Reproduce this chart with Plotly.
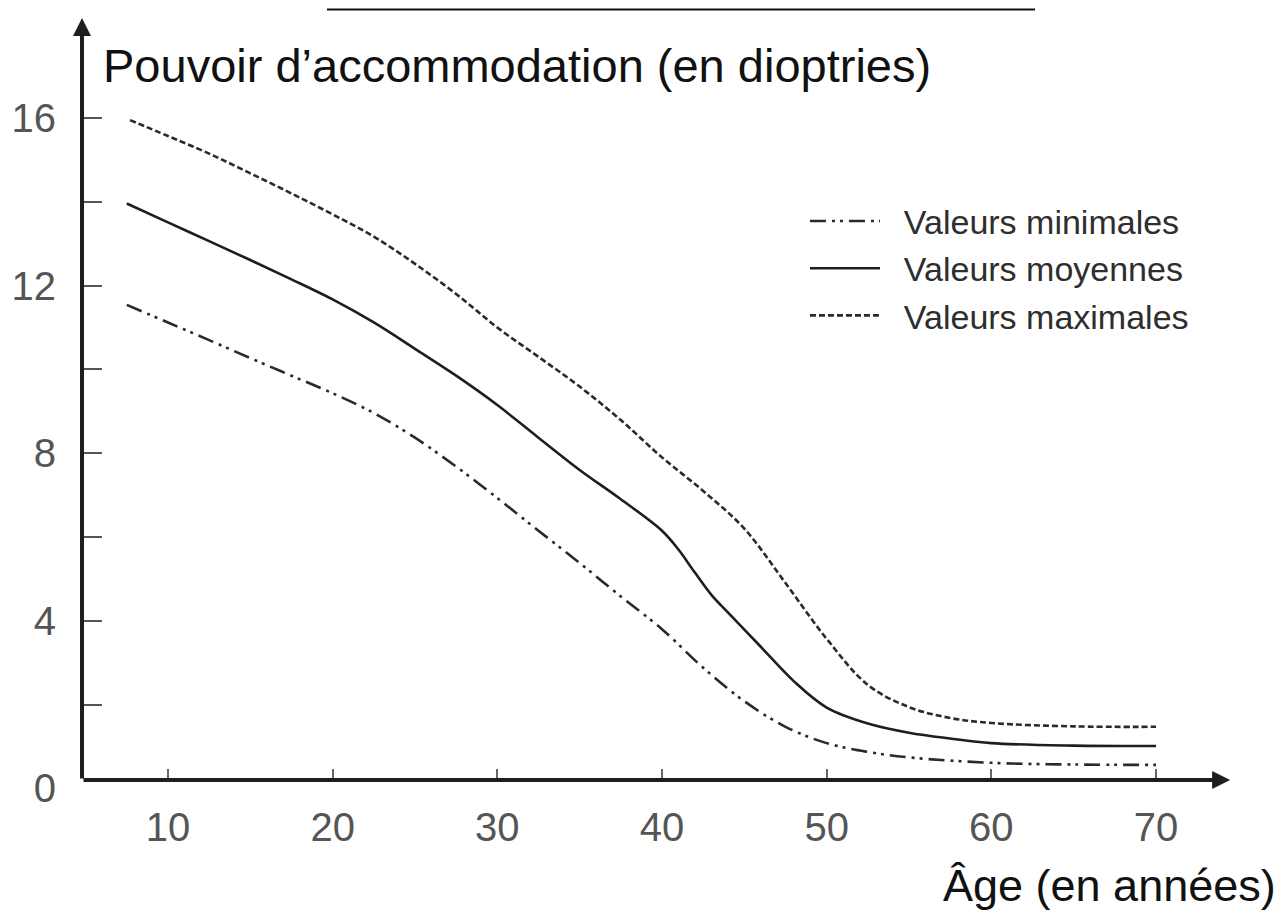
import plotly.graph_objects as go

# ---- data ----
age_max = [7.7, 10, 12.5, 15, 17.5, 20, 22.5, 25, 27.5, 30, 32.5, 35, 37.5, 40, 42.5, 45, 47.5, 50, 52.5, 55, 57.5, 60, 65, 70]
val_max = [15.95, 15.57, 15.15, 14.68, 14.2, 13.7, 13.17, 12.52, 11.8, 11.0, 10.3, 9.59, 8.79, 7.9, 7.1, 6.2, 4.9, 3.57, 2.47, 1.94, 1.68, 1.56, 1.48, 1.47]

age_mean = [7.5, 10, 12.5, 15, 17.5, 20, 22.5, 25, 27.5, 30, 32.5, 35, 37.5, 40, 41, 42, 43, 44, 46, 48, 50, 52.5, 55, 57.5, 60, 65, 70]
val_mean = [13.96, 13.51, 13.06, 12.61, 12.15, 11.67, 11.12, 10.49, 9.85, 9.15, 8.37, 7.6, 6.9, 6.15, 5.7, 5.15, 4.62, 4.2, 3.38, 2.56, 1.93, 1.55, 1.33, 1.19, 1.08, 1.02, 1.01]

age_min = [7.5, 10, 12.5, 15, 17.5, 20, 22.5, 25, 27.5, 30, 32.5, 35, 37.5, 40, 42.5, 45, 47.5, 50, 52.5, 55, 60, 65, 70]
val_min = [11.54, 11.12, 10.70, 10.27, 9.85, 9.43, 8.96, 8.37, 7.68, 6.93, 6.15, 5.38, 4.58, 3.80, 2.88, 2.08, 1.47, 1.08, 0.87, 0.74, 0.61, 0.57, 0.56]

x_ticks = [10, 20, 30, 40, 50, 60, 70]
y_ticks = [2, 4, 6, 8, 10, 12, 14, 16]
y_labels = ["", "4", "", "8", "", "12", "", "16"]

series_names = ["Valeurs minimales", "Valeurs moyennes", "Valeurs maximales"]

title_y = "Pouvoir d\u2019accommodation (en dioptries)"
title_x = "\u00c2ge (en ann\u00e9es)"

# axis extents (data units)
X_MIN, X_MAX = 4.78, 74.98
Y_MIN, Y_MAX = -0.516, 18.578
X_AXIS_Y = 0.20
X_ARROW_END = 74.5
Y_ARROW_END = 18.39

FONT = "Liberation Sans, Arial, Helvetica, sans-serif"
INK = "#1e1e1e"
GAP = "\u00a0\u00a0"

fig = go.Figure()
fig.add_trace(go.Scatter(
    x=age_min, y=val_min, mode="lines", name=GAP + series_names[0],
    line=dict(color="#2a2a2a", width=2.6, dash="16px,6px,3px,5px,3px,6px",
              shape="spline", smoothing=1.0)))
fig.add_trace(go.Scatter(
    x=age_mean, y=val_mean, mode="lines", name=GAP + series_names[1],
    line=dict(color="#1e1e1e", width=2.6, shape="spline", smoothing=1.0)))
fig.add_trace(go.Scatter(
    x=age_max, y=val_max, mode="lines", name=GAP + series_names[2],
    line=dict(color="#2a2a2a", width=2.6, dash="6px,3px",
              shape="spline", smoothing=1.0)))

# invisible trace on yaxis2 to carry the "0" label
fig.add_trace(go.Scatter(x=[None], y=[None], yaxis="y2", showlegend=False, hoverinfo="skip"))

# page body has an 8px margin: figure drawn at (8, 8)
fig.update_layout(
    width=1275, height=903,
    margin=dict(l=74, r=45, t=2, b=101, autoexpand=False),
    paper_bgcolor="white", plot_bgcolor="white",
    font=dict(family=FONT),
    xaxis=dict(
        range=[X_MIN, X_MAX], showgrid=False, zeroline=False, showline=False,
        anchor="free", position=0.0375, automargin=False,
        tickvals=x_ticks, ticks="inside", ticklen=11, tickwidth=2, tickcolor="#666",
        tickfont=dict(size=40, color="#555", family=FONT), ticklabelstandoff=20,
    ),
    yaxis=dict(
        range=[Y_MIN, Y_MAX], showgrid=False, zeroline=False, showline=False,
        automargin=False,
        tickvals=y_ticks, ticktext=y_labels, ticks="inside", ticklen=20, tickwidth=2,
        tickcolor="#555", tickfont=dict(size=40, color="#555", family=FONT),
        ticklabelstandoff=25,
    ),
    yaxis2=dict(
        range=[Y_MIN, Y_MAX], overlaying="y", side="left", showgrid=False,
        automargin=False,
        zeroline=False, showline=False, tickvals=[0], ticktext=["0"], ticks="",
        tickfont=dict(size=40, color="#555", family=FONT), ticklabelstandoff=25,
    ),
    showlegend=True,
    legend=dict(
        x=0.6254, y=0.772, xanchor="left", yanchor="top",
        bgcolor="rgba(0,0,0,0)", itemwidth=70,
        font=dict(size=34, color="#2e2e2e", family=FONT),
        tracegroupgap=0,
    ),
)

# axes drawn as arrows
fig.add_annotation(x=X_ARROW_END, y=X_AXIS_Y, ax=X_MIN, ay=X_AXIS_Y,
                   xref="x", yref="y", axref="x", ayref="y",
                   showarrow=True, arrowhead=2, arrowsize=0.9, arrowwidth=4,
                   arrowcolor=INK, text="")
fig.add_annotation(x=X_MIN, y=Y_ARROW_END, ax=X_MIN, ay=X_AXIS_Y,
                   xref="x", yref="y", axref="x", ayref="y",
                   showarrow=True, arrowhead=2, arrowsize=0.9, arrowwidth=4,
                   arrowcolor=INK, text="")

# axis titles
fig.add_annotation(x=0.0165, y=0.93, xref="paper", yref="paper",
                   xanchor="left", yanchor="middle", showarrow=False,
                   text=title_y, font=dict(size=47, color="#111", family=FONT))
fig.add_annotation(x=1.0346, y=-0.094, xref="paper", yref="paper",
                   xanchor="right", yanchor="middle", showarrow=False,
                   text=title_x, font=dict(size=45, color="#111", family=FONT))

# cut-off underline of the page heading at the top
fig.add_shape(type="line", xref="paper", yref="paper",
              x0=(327 - 82) / 1156, x1=(1035 - 82) / 1156, y0=1.0005, y1=1.0005,
              line=dict(color="#111", width=2))

fig.write_html("out.html")
